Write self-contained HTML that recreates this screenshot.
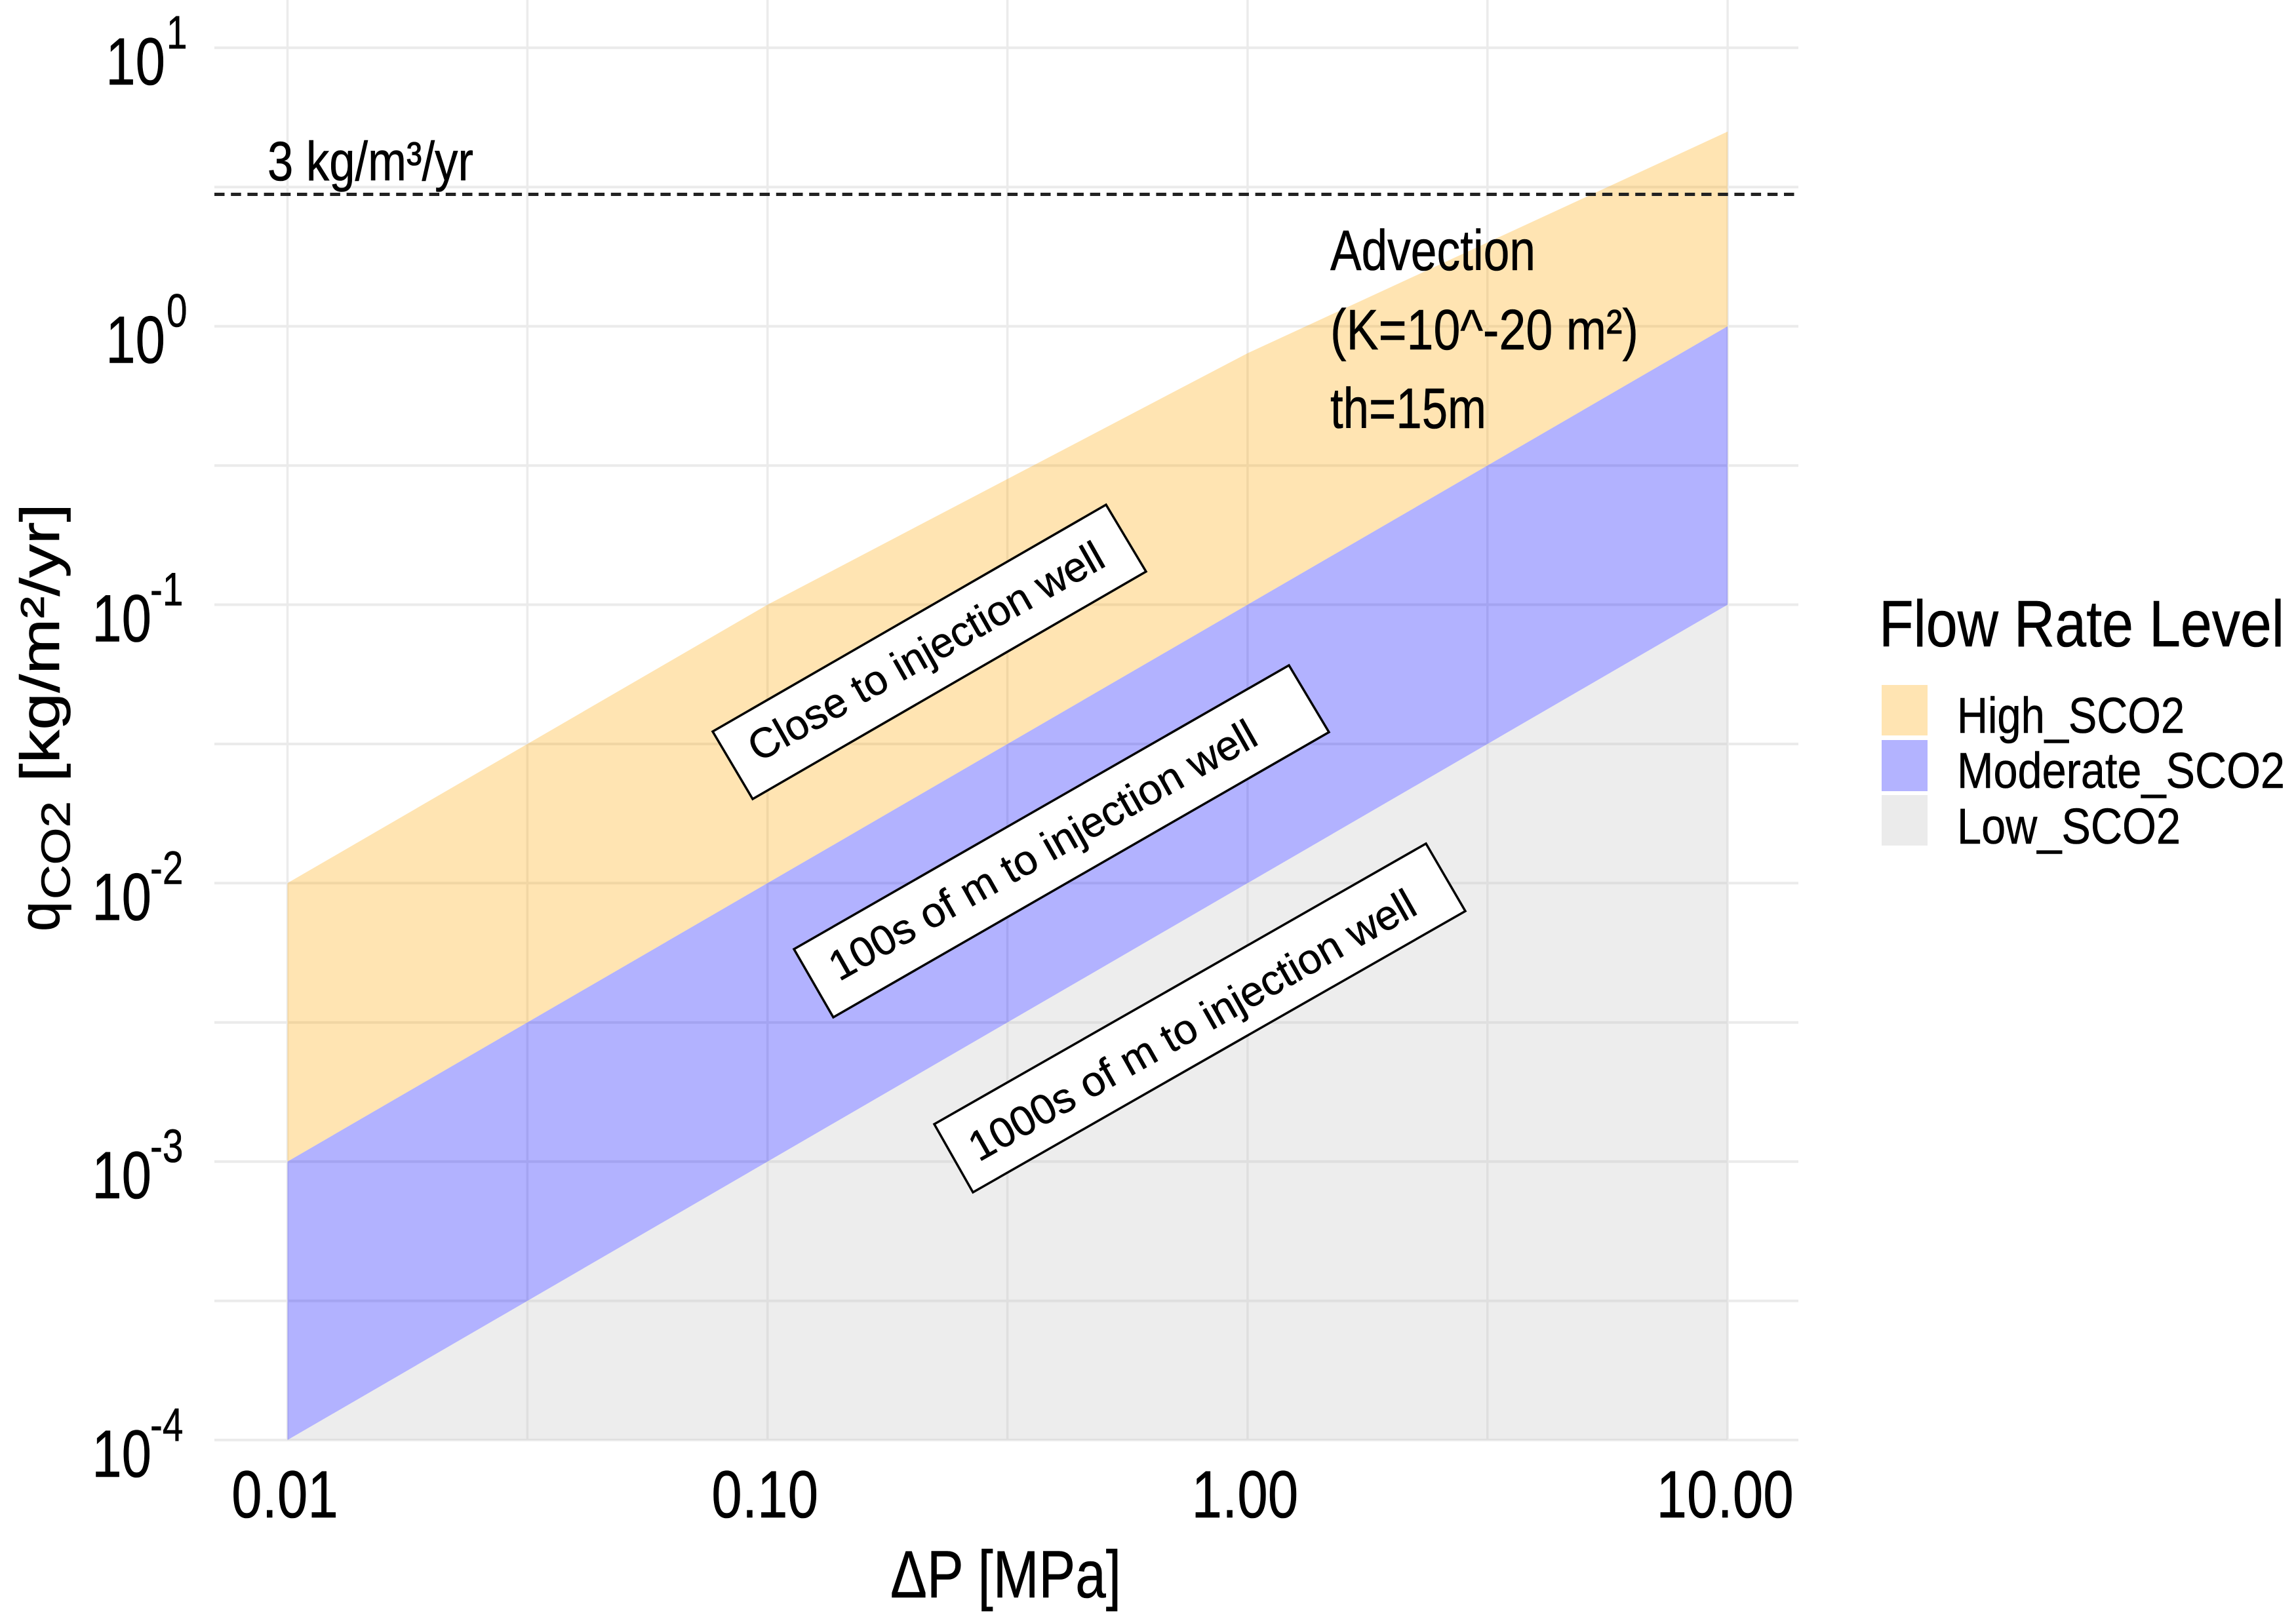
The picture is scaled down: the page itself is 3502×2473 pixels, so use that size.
<!DOCTYPE html>
<html lang="en">
<head>
<meta charset="utf-8">
<title>Flow rate level chart</title>
<style>
html,body{margin:0;padding:0;background:#fff;width:3502px;height:2473px;overflow:hidden}
svg{display:block}
text{font-family:"Liberation Sans",Arial,sans-serif;fill:#000;stroke:#000;stroke-width:0.6}
</style>
</head>
<body>
<svg id="chart" xmlns="http://www.w3.org/2000/svg" width="3502" height="2473" viewBox="0 0 3502 2473">
  <rect x="0" y="0" width="3502" height="2473" fill="#ffffff"/>
  <g id="grid"></g>
  <g id="ribbons"></g>
  <g id="reference"></g>
  <g id="xticks"></g>
  <g id="yticks"></g>

  <text x="1358" y="2437" font-size="102" textLength="352" lengthAdjust="spacingAndGlyphs">ΔP [MPa]</text>

  <text transform="translate(90,1421) rotate(-90)" font-size="88" textLength="46" lengthAdjust="spacingAndGlyphs">q</text>
  <text transform="translate(106.6,1372) rotate(-90)" font-size="62" textLength="150" lengthAdjust="spacingAndGlyphs">CO2</text>
  <text transform="translate(90,1193) rotate(-90)" font-size="84" textLength="425" lengthAdjust="spacingAndGlyphs">[kg/m²/yr]</text>

  <text x="408" y="275" font-size="84" textLength="314" lengthAdjust="spacingAndGlyphs">3 kg/m³/yr</text>

  <text x="2029" y="412" font-size="87" textLength="313" lengthAdjust="spacingAndGlyphs">Advection</text>
  <text x="2029" y="533" font-size="87" textLength="470" lengthAdjust="spacingAndGlyphs">(K=10^-20 m²)</text>
  <text x="2029" y="653" font-size="87" textLength="238" lengthAdjust="spacingAndGlyphs">th=15m</text>

  <polygon points="1087,1116 1687,770 1748,872 1148,1219" fill="#ffffff" stroke="#000000" stroke-width="3.5"/>
  <text transform="translate(1423,1013) rotate(-29.5)" font-size="64" text-anchor="middle" textLength="612" lengthAdjust="spacingAndGlyphs">Close to injection well</text>
  <polygon points="1211,1448 1966,1015 2027,1117 1271,1552" fill="#ffffff" stroke="#000000" stroke-width="3.5"/>
  <text transform="translate(1601,1316) rotate(-29.5)" font-size="64" text-anchor="middle" textLength="738" lengthAdjust="spacingAndGlyphs">100s of m to injection well</text>
  <polygon points="1425,1715 2175,1287 2235,1390 1484,1819" fill="#ffffff" stroke="#000000" stroke-width="3.5"/>
  <text transform="translate(1829,1583) rotate(-29.5)" font-size="64" text-anchor="middle" textLength="772" lengthAdjust="spacingAndGlyphs">1000s of m to injection well</text>

  <g>
    <text x="2866" y="986" font-size="100" textLength="618" lengthAdjust="spacingAndGlyphs">Flow Rate Level</text>
    <rect x="2870" y="1045" width="70" height="77" fill="#ffe4b2"/>
    <text x="2985" y="1118" font-size="77" textLength="347" lengthAdjust="spacingAndGlyphs">High_SCO2</text>
    <rect x="2870" y="1129" width="70" height="78" fill="#b3b3ff"/>
    <text x="2985" y="1202" font-size="77" textLength="500" lengthAdjust="spacingAndGlyphs">Moderate_SCO2</text>
    <rect x="2870" y="1213" width="70" height="77" fill="#ebebeb"/>
    <text x="2985" y="1287" font-size="77" textLength="341" lengthAdjust="spacingAndGlyphs">Low_SCO2</text>
  </g>
</svg>
<script>
// Chart data
const pressure = [0.01, 0.1, 1, 10];
const highUpper = [0.01, 0.1, 0.8, 5];
const moderateUpper = [0.001, 0.01, 0.1, 1];
const lowUpper = [0.0001, 0.001, 0.01, 0.1];
const lowLower = [0.0001, 0.0001, 0.0001, 0.0001];
const referenceRate = 3;
const xTickValues = [0.01, 0.1, 1, 10];
const xTickLabels = ['0.01', '0.10', '1.00', '10.00'];
const yTickExponents = [1, 0, -1, -2, -3, -4];
const xGridValues = [0.01, 0.0316, 0.1, 0.316, 1, 3.16, 10];
const yGridValues = [10, 3.16, 1, 0.316, 0.1, 0.0316, 0.01, 0.00316, 0.001, 0.000316, 0.0001];

const NS = 'http://www.w3.org/2000/svg';
function xScale(v) { return 438.5 + 732.2 * (Math.log10(v) + 2); }
function yScale(v) { return 497.7 - 424.8 * Math.log10(v); }

const gridGroup = document.getElementById('grid');
xGridValues.forEach(function (v) {
  const line = document.createElementNS(NS, 'line');
  
  
  line.setAttribute('x1', xScale(v));
  line.setAttribute('x2', xScale(v));
  line.setAttribute('y1', 0);
  line.setAttribute('y2', 2197);
  line.setAttribute('stroke', '#ebebeb');
  line.setAttribute('stroke-width', 3.5);
  gridGroup.appendChild(line);
});
yGridValues.forEach(function (v) {
  const line = document.createElementNS(NS, 'line');
  
  
  line.setAttribute('x1', 327);
  line.setAttribute('x2', 2743);
  line.setAttribute('y1', yScale(v));
  line.setAttribute('y2', yScale(v));
  line.setAttribute('stroke', '#ebebeb');
  line.setAttribute('stroke-width', 4);
  gridGroup.appendChild(line);
});

function ribbonPoints(upper, lower) {
  const top = pressure.map(function (p, i) { return xScale(p) + ',' + yScale(upper[i]); });
  const bottom = pressure.map(function (p, i) { return xScale(p) + ',' + yScale(lower[i]); }).reverse();
  return top.concat(bottom).join(' ');
}
const ribbonGroup = document.getElementById('ribbons');

const ribbonHigh = document.createElementNS(NS, 'polygon');


ribbonHigh.setAttribute('points', ribbonPoints(highUpper, moderateUpper));
ribbonHigh.setAttribute('fill', '#ffa500');
ribbonHigh.setAttribute('fill-opacity', '0.3');
ribbonGroup.appendChild(ribbonHigh);

const ribbonModerate = document.createElementNS(NS, 'polygon');


ribbonModerate.setAttribute('points', ribbonPoints(moderateUpper, lowUpper));
ribbonModerate.setAttribute('fill', '#0000ff');
ribbonModerate.setAttribute('fill-opacity', '0.3');
ribbonGroup.appendChild(ribbonModerate);

const ribbonLow = document.createElementNS(NS, 'polygon');


ribbonLow.setAttribute('points', ribbonPoints(lowUpper, lowLower));
ribbonLow.setAttribute('fill', '#c4c4c4');
ribbonLow.setAttribute('fill-opacity', '0.3');
ribbonGroup.appendChild(ribbonLow);

const refLine = document.createElementNS(NS, 'line');


refLine.setAttribute('x1', 327);
refLine.setAttribute('x2', 2743);
refLine.setAttribute('y1', yScale(referenceRate) + 1.5);
refLine.setAttribute('y2', yScale(referenceRate) + 1.5);
refLine.setAttribute('stroke', '#222222');
refLine.setAttribute('stroke-width', 5);
refLine.setAttribute('stroke-dasharray', '15.5 9.7');
document.getElementById('reference').appendChild(refLine);

const xTickGroup = document.getElementById('xticks');
xTickValues.forEach(function (v, i) {
  const t = document.createElementNS(NS, 'text');
  
  
  t.setAttribute('transform', 'translate(' + (xScale(v) - 4) + ',2315) scale(0.82,1)');
  t.setAttribute('text-anchor', 'middle');
  t.setAttribute('font-size', 102);
  t.textContent = xTickLabels[i];
  xTickGroup.appendChild(t);
});

const yTickGroup = document.getElementById('yticks');
yTickExponents.forEach(function (e) {
  const y = yScale(Math.pow(10, e));
  const baseEnd = e < 0 ? 231 : 252;
  const supStart = e < 0 ? 229 : 254;

  const base = document.createElementNS(NS, 'text');
  
  
  base.setAttribute('transform', 'translate(' + baseEnd + ',' + (y + 56) + ') scale(0.8,1)');
  base.setAttribute('text-anchor', 'end');
  base.setAttribute('font-size', 102);
  base.textContent = '10';
  yTickGroup.appendChild(base);

  const sup = document.createElementNS(NS, 'text');
  
  
  sup.setAttribute('transform', 'translate(' + supStart + ',' + (y + 1) + ') scale(0.8,1)');
  sup.setAttribute('font-size', 71);
  sup.textContent = String(e);
  yTickGroup.appendChild(sup);
});
</script>
</body>
</html>
